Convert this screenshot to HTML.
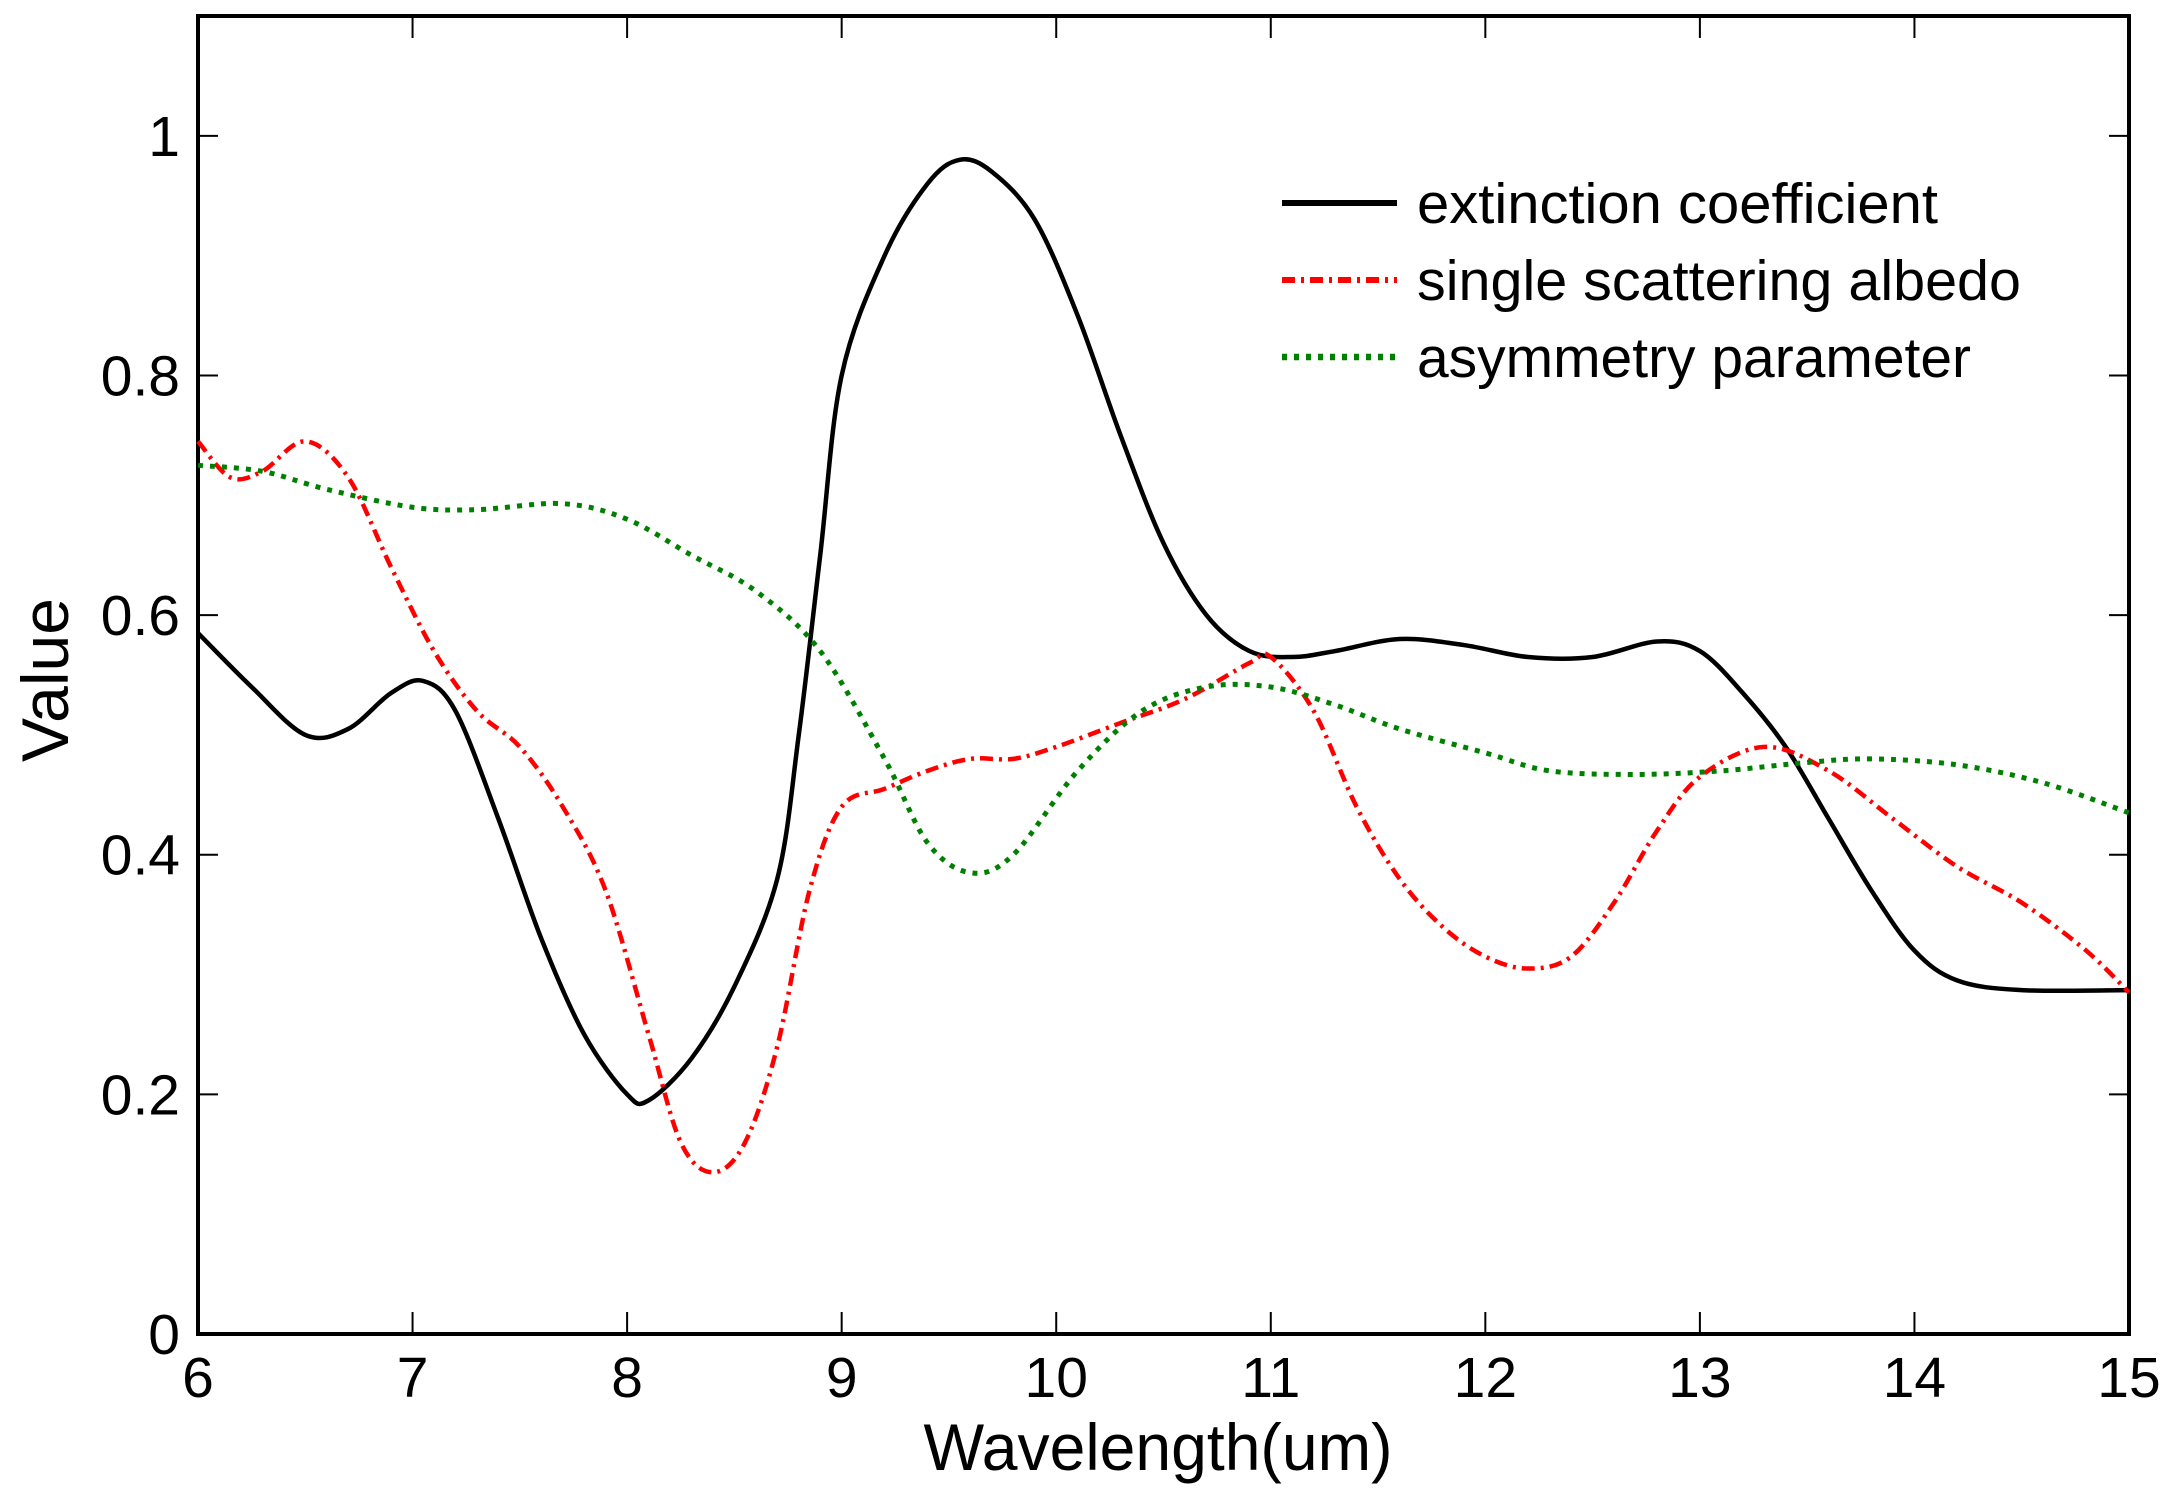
<!DOCTYPE html>
<html><head><meta charset="utf-8"><style>
html,body{margin:0;padding:0;background:#fff;}
svg{display:block;font-family:"Liberation Sans",Arial,sans-serif;}
</style></head><body>
<svg id="chart" width="2174" height="1495" viewBox="0 0 2174 1495" xmlns="http://www.w3.org/2000/svg">
<g id="axes"></g>
<g id="series"></g>
<g id="legend"></g>
</svg>
<script>
const xTicks = [6,7,8,9,10,11,12,13,14,15];
const yTicks = [0,0.2,0.4,0.6,0.8,1];
const yTickLabels = ["0","0.2","0.4","0.6","0.8","1"];
const extX = [6,6.25,6.5,6.7,6.9,7.05,7.2,7.4,7.6,7.8,8.0,8.1,8.3,8.5,8.7,8.8,8.9,9.0,9.2,9.4,9.55,9.7,9.9,10.1,10.3,10.5,10.7,10.9,11.1,11.3,11.6,11.9,12.2,12.5,12.8,13.0,13.2,13.4,13.6,13.8,14.0,14.2,14.5,15];
const extY = [0.585,0.54,0.5,0.505,0.535,0.545,0.52,0.43,0.33,0.25,0.2,0.195,0.23,0.29,0.38,0.5,0.65,0.8,0.9,0.96,0.98,0.97,0.93,0.85,0.75,0.66,0.6,0.57,0.565,0.57,0.58,0.575,0.565,0.565,0.578,0.57,0.535,0.49,0.43,0.37,0.32,0.295,0.287,0.287];
const albX = [6,6.15,6.3,6.5,6.7,6.9,7.1,7.3,7.5,7.7,7.9,8.1,8.25,8.4,8.55,8.7,8.85,9.0,9.2,9.4,9.6,9.8,10.0,10.3,10.6,10.9,11.0,11.2,11.4,11.6,11.8,12.0,12.2,12.4,12.6,12.8,13.0,13.3,13.6,13.9,14.2,14.5,14.8,15];
const albY = [0.745,0.715,0.72,0.745,0.715,0.64,0.57,0.52,0.49,0.44,0.37,0.25,0.16,0.135,0.16,0.24,0.37,0.44,0.455,0.47,0.48,0.48,0.49,0.51,0.53,0.56,0.565,0.52,0.44,0.38,0.34,0.315,0.305,0.315,0.36,0.42,0.465,0.49,0.47,0.43,0.39,0.36,0.32,0.285];
const asyX = [6,6.3,6.6,7,7.3,7.7,8.0,8.3,8.6,8.9,9.2,9.4,9.6,9.8,10.1,10.4,10.7,11.0,11.3,11.6,12.0,12.3,12.7,13.1,13.5,13.8,14.2,14.6,15];
const asyY = [0.725,0.72,0.705,0.69,0.688,0.693,0.68,0.65,0.62,0.57,0.48,0.41,0.385,0.4,0.47,0.52,0.54,0.54,0.525,0.505,0.485,0.47,0.467,0.47,0.477,0.48,0.475,0.46,0.435];
const legendLabels = ["extinction coefficient","single scattering albedo","asymmetry parameter"];

const L=198,R=2129,T=16,B=1334;
const xs=v=>L+(v-6)/9*(R-L);
const ys=v=>B-v/1.1*(B-T);
const NS="http://www.w3.org/2000/svg";
function mk(tag,attrs,parent,text){const e=document.createElementNS(NS,tag);for(const k in attrs)e.setAttribute(k,attrs[k]);if(text!==undefined)e.textContent=text;parent.appendChild(e);return e;}
const axes=document.getElementById('axes'),series=document.getElementById('series'),legend=document.getElementById('legend');

const frame=mk('rect',{x:L,y:T,width:R-L,height:B-T,fill:'none',stroke:'#000','stroke-width':4},axes);


xTicks.forEach(v=>{
  const x=xs(v);
  const t1=mk('line',{x1:x,y1:B,x2:x,y2:B-22,stroke:'#000','stroke-width':2},axes);
  
  
  const t2=mk('line',{x1:x,y1:T,x2:x,y2:T+22,stroke:'#000','stroke-width':2},axes);
  
  
  const lb=mk('text',{x:x,y:1397,'font-size':57,'text-anchor':'middle'},axes,String(v));
  
  
});
yTicks.forEach((v,i)=>{
  const y=ys(v);
  const t1=mk('line',{x1:L,y1:y,x2:L+20,y2:y,stroke:'#000','stroke-width':2},axes);
  
  
  const t2=mk('line',{x1:R,y1:y,x2:R-20,y2:y,stroke:'#000','stroke-width':2},axes);
  
  
  const lb=mk('text',{x:180,y:y+20,'font-size':57,'text-anchor':'end'},axes,yTickLabels[i]);
  
  
});
const xt=mk('text',{x:1158,y:1470,'font-size':66,'text-anchor':'middle',textLength:469,lengthAdjust:'spacingAndGlyphs'},axes,'Wavelength(um)');


const yt=mk('text',{x:0,y:0,'font-size':66,'text-anchor':'middle',transform:'translate(68,680) rotate(-90)'},axes,'Value');



function pathFor(X,Y){
  const P=X.map((x,i)=>[xs(x),ys(Y[i])]);
  let d='M'+P[0][0]+','+P[0][1];
  for(let i=0;i<P.length-1;i++){
    const p0=P[Math.max(0,i-1)],p1=P[i],p2=P[i+1],p3=P[Math.min(P.length-1,i+2)];
    const c1=[p1[0]+(p2[0]-p0[0])/6,p1[1]+(p2[1]-p0[1])/6];
    const c2=[p2[0]-(p3[0]-p1[0])/6,p2[1]-(p3[1]-p1[1])/6];
    d+=' C'+c1+' '+c2+' '+p2;
  }
  return d;
}
const styles=[
  {stroke:'#000','stroke-width':4.5,dash:null,name:'extinction-coefficient-line'},
  {stroke:'#ff0000','stroke-width':4.5,dash:'13 6 3 6',name:'single-scattering-albedo-line'},
  {stroke:'#008000','stroke-width':5,dash:'5 7',name:'asymmetry-parameter-line'}
];
const data=[[extX,extY],[albX,albY],[asyX,asyY]];
data.forEach((dd,i)=>{
  const s=styles[i];
  const a={d:pathFor(dd[0],dd[1]),fill:'none',stroke:s.stroke,'stroke-width':s['stroke-width'],'stroke-linejoin':'round'};
  if(s.dash)a['stroke-dasharray']=s.dash;
  const p=mk('path',a,series);
  
  
});
const rowsY=[203,280,357];
const widths=[521,604,554];
legendLabels.forEach((lab,i)=>{
  const s=styles[i];
  const a={x1:1282,y1:rowsY[i],x2:1397,y2:rowsY[i],stroke:s.stroke,'stroke-width':s['stroke-width']+1.5};
  if(s.dash)a['stroke-dasharray']=s.dash;
  const ln=mk('line',a,legend);
  
  
  const tx=mk('text',{x:1417,y:rowsY[i]+20,'font-size':57,textLength:widths[i],lengthAdjust:'spacingAndGlyphs'},legend,lab);
  
  
});
</script>
</body></html>
